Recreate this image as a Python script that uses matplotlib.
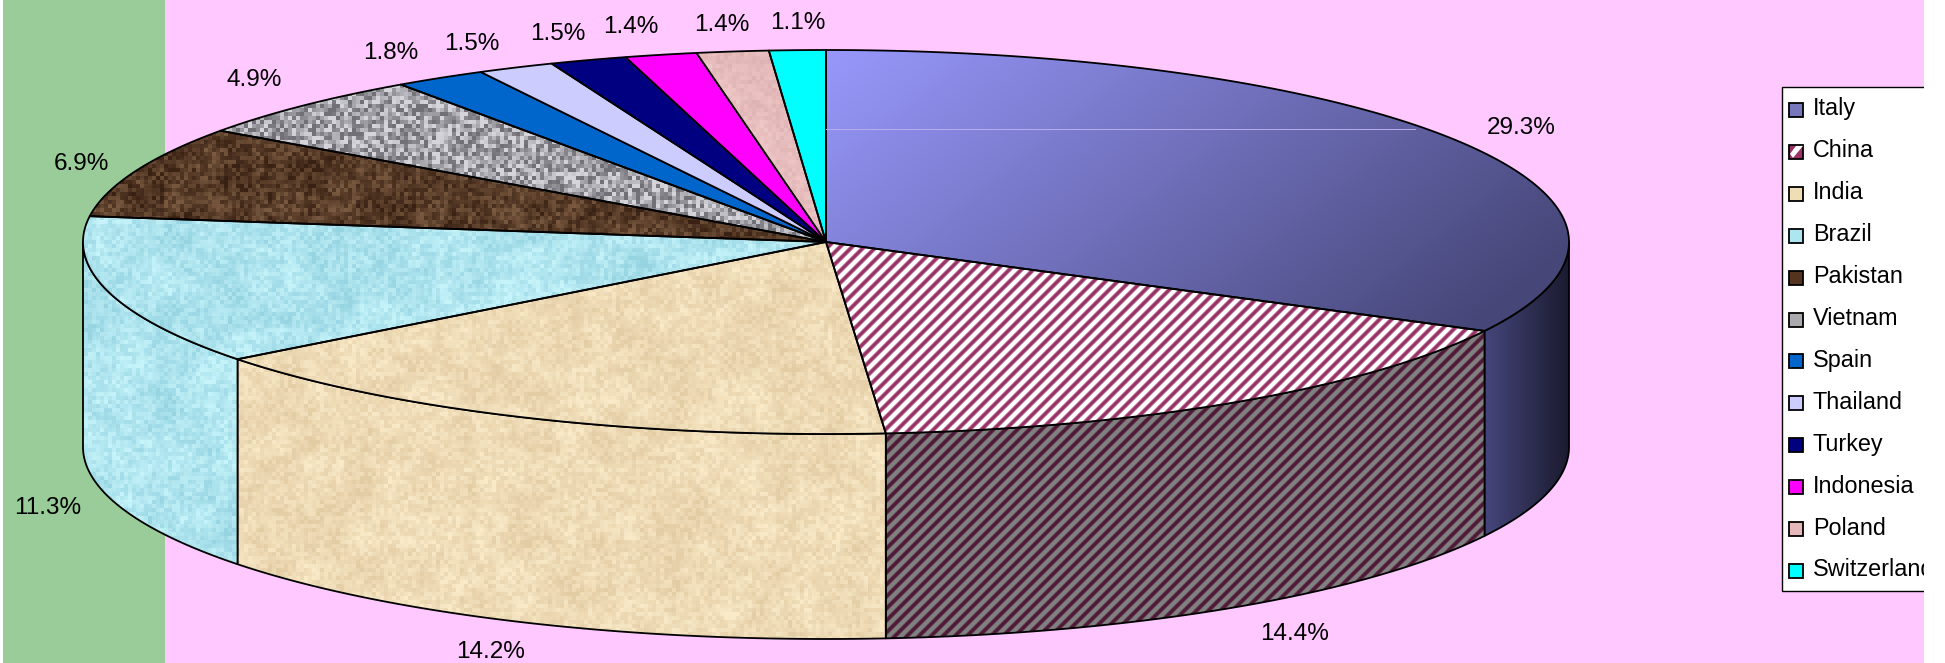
import numpy as np
import matplotlib
matplotlib.use("Agg")
import matplotlib.pyplot as plt
from matplotlib.patches import Polygon, Rectangle

countries = ["Italy", "China", "India", "Brazil", "Pakistan", "Vietnam",
             "Spain", "Thailand", "Turkey", "Indonesia", "Poland", "Switzerland"]
shares = [29.3, 14.4, 14.2, 11.3, 6.9, 4.9, 1.8, 1.5, 1.5, 1.4, 1.4, 1.1]

# -----------------------------------------------------
# layout, in pixels of the 1945x663 picture
# -----------------------------------------------------

W, H = 1945, 663
CX, CY, RX, RY = 826, 242, 743, 192
DEPTH = 205
PLOT_LEFT, GREEN_RIGHT, PLOT_RIGHT = 3, 165, 1924

# label shift from the rim point at the middle of each slice
label_shift = [(60, -15), (58, 27), (-35, 29), (-60, 11), (-54, -7), (-49, -26),
               (-49, -25), (-44, -24), (-30, -26), (-30, -28), (-11, -27), (0, -27)]

plt.rcParams["font.family"] = ["Liberation Sans", "DejaVu Sans"]

ys, xs = np.mgrid[0:H, 0:W]

# -----------------------------------------------------

def speck(i, j, seed):
    # fixed speckle for the picture fills, not chart data
    v = np.sin(i * 12.9898 + j * 78.233 + seed) * 43758.5453
    return v - np.floor(v)

def grain(cell, seed):
    return speck(xs // cell, ys // cell, seed)

def blobs(cell, seed):
    i = xs // cell
    j = ys // cell
    u = (xs % cell) / cell
    v = (ys % cell) / cell
    top = speck(i, j, seed) * (1 - u) + speck(i + 1, j, seed) * u
    bottom = speck(i, j + 1, seed) * (1 - u) + speck(i + 1, j + 1, seed) * u
    return top * (1 - v) + bottom * v

def mix(low, high, t):
    low = np.array(low, dtype=float)
    high = np.array(high, dtype=float)
    t = np.clip(t, 0, 1)[..., None]
    return (low + (high - low) * t) / 255

def marble(low, high, seed, fine=0.4, mid=0.3, coarse=0.3, gain=1.6):
    t = fine * grain(4, seed) + mid * blobs(10, seed + 1) + coarse * blobs(26, seed + 2)
    return mix(low, high, (t - 0.5) * gain + 0.5)

def stripes(dark, light):
    t = 0.5 + 0.5 * np.cos((xs + ys) * 2 * np.pi / 12)
    return mix(dark, light, np.clip(t * 1.7 - 0.25, 0, 1))

def rim(angle, drop=0):
    a = np.radians(angle)
    return CX + RX * np.sin(a), CY - RY * np.cos(a) + drop

def arc(a, b, drop=0):
    angles = np.linspace(a, b, max(int(abs(b - a) * 3), 2))
    x, y = rim(angles, drop)
    return np.column_stack([x, y])

def fill(ax, points, image=None, color=None, zorder=2):
    if image is None:
        ax.add_patch(Polygon(points, closed=True, facecolor=color, edgecolor="black",
                             linewidth=1.3, joinstyle="round", zorder=zorder))
        return
    outline = Polygon(points, closed=True, facecolor="none", edgecolor="black",
                      linewidth=1.3, joinstyle="round", zorder=zorder + 0.1)
    ax.add_patch(outline)
    im = ax.imshow(image, extent=[0, W, H, 0], aspect="auto", interpolation="bilinear",
                   zorder=zorder)
    im.set_clip_path(outline)

# -----------------------------------------------------

top_fills = [
    mix((152, 152, 252), (70, 70, 120), (xs - CX) / RX * 0.75 + (ys - CY + RY) / 280 * 0.35),
    stripes((153, 51, 102), (255, 255, 255)),
    marble((226, 204, 164), (250, 234, 200), 3),
    marble((150, 212, 226), (198, 244, 250), 7),
    marble((56, 32, 18), (122, 90, 64), 11, fine=0.5, mid=0.3, coarse=0.2),
    marble((112, 112, 118), (212, 212, 218), 13, fine=0.8, mid=0.15, coarse=0.05, gain=1.7),
    "#0066CC",
    "#CCCCFF",
    "#000080",
    "#FF00FF",
    marble((222, 178, 178), (240, 200, 200), 17),
    "#00FFFF",
]

side_fills = {
    0: mix((72, 72, 128), (26, 26, 46), (xs - 1480) / 89),
    1: stripes((78, 24, 54), (128, 128, 128)),
    2: top_fills[2],
    3: top_fills[3],
}

swatch_colors = ["#7777BB", "#993366", "#EEDDB5", "#ADE6EE", "#55341F", "#AAAAAE",
                 "#0066CC", "#CCCCFF", "#000080", "#FF00FF", "#E4B8B8", "#00FFFF"]

def draw_chart():
    fig = plt.figure(figsize=(W / 100, H / 100), dpi=100, facecolor="white")
    ax = fig.add_axes([0, 0, 1, 1])
    ax.axis("off")

    plot_area = Rectangle((PLOT_LEFT, 0), PLOT_RIGHT - PLOT_LEFT, H, facecolor="#FFC8FF",
                          edgecolor="none", zorder=0)
    ax.add_patch(plot_area)
    ax.add_patch(Rectangle((PLOT_LEFT, 0), GREEN_RIGHT - PLOT_LEFT, H, facecolor="#99CC99",
                           edgecolor="none", zorder=0.5))

    edges = np.cumsum([0] + shares) / sum(shares) * 360

    # the wall of the pie, only the part facing the viewer
    for n in side_fills:
        a = max(edges[n], 90)
        b = min(edges[n + 1], 270)
        points = np.vstack([arc(a, b), arc(b, a, DEPTH)])
        fill(ax, points, image=side_fills[n], zorder=2 + n * 0.2)

    # the top of the pie
    for n in range(len(shares)):
        points = np.vstack([[CX, CY], arc(edges[n], edges[n + 1])])
        if isinstance(top_fills[n], str):
            fill(ax, points, color=top_fills[n], zorder=4)
        else:
            fill(ax, points, image=top_fills[n], zorder=4)

    # pale line left in the gradient of the first slice
    ax.plot([CX, 1415], [129, 129], color="#B9AEEE", linewidth=0.7, zorder=4.5)

    # percentage labels
    for n, share in enumerate(shares):
        middle = (edges[n] + edges[n + 1]) / 2
        drop = DEPTH if 90 < middle < 270 else 0
        x, y = rim(middle, drop)
        ax.text(x + label_shift[n][0], y + label_shift[n][1], f"{share}%", fontsize=17.5,
                ha="center", va="center", color="black", zorder=6)

    # legend, cut off by the right edge of the plot area
    box = Rectangle((1782, 87), 300, 504, facecolor="white", edgecolor="black",
                    linewidth=1.0, zorder=7)
    ax.add_patch(box)
    box.set_clip_path(plot_area)
    row_step = (569 - 108) / (len(countries) - 1)
    for n, name in enumerate(countries):
        y = 108 + n * row_step
        ax.add_patch(Rectangle((1789.5, y - 5), 14, 14, facecolor=swatch_colors[n],
                               edgecolor="black", linewidth=1.3, zorder=8))
        if n == 1:
            # white corner of the striped swatch
            ax.add_patch(Polygon([(1793, y + 8), (1803, y - 4), (1796, y - 4), (1790, y + 4)],
                                 closed=True, facecolor="white", edgecolor="none", zorder=8.2))
        label = ax.text(1813, y + 1, name, fontsize=16.8, ha="left", va="center", color="black",
                        zorder=8, clip_on=True)
        label.set_clip_path(plot_area)

    ax.set_xlim(0, W)
    ax.set_ylim(H, 0)
    fig.savefig("out.png", dpi=100, facecolor="white")

# -----------------------------------------------------

draw_chart()
